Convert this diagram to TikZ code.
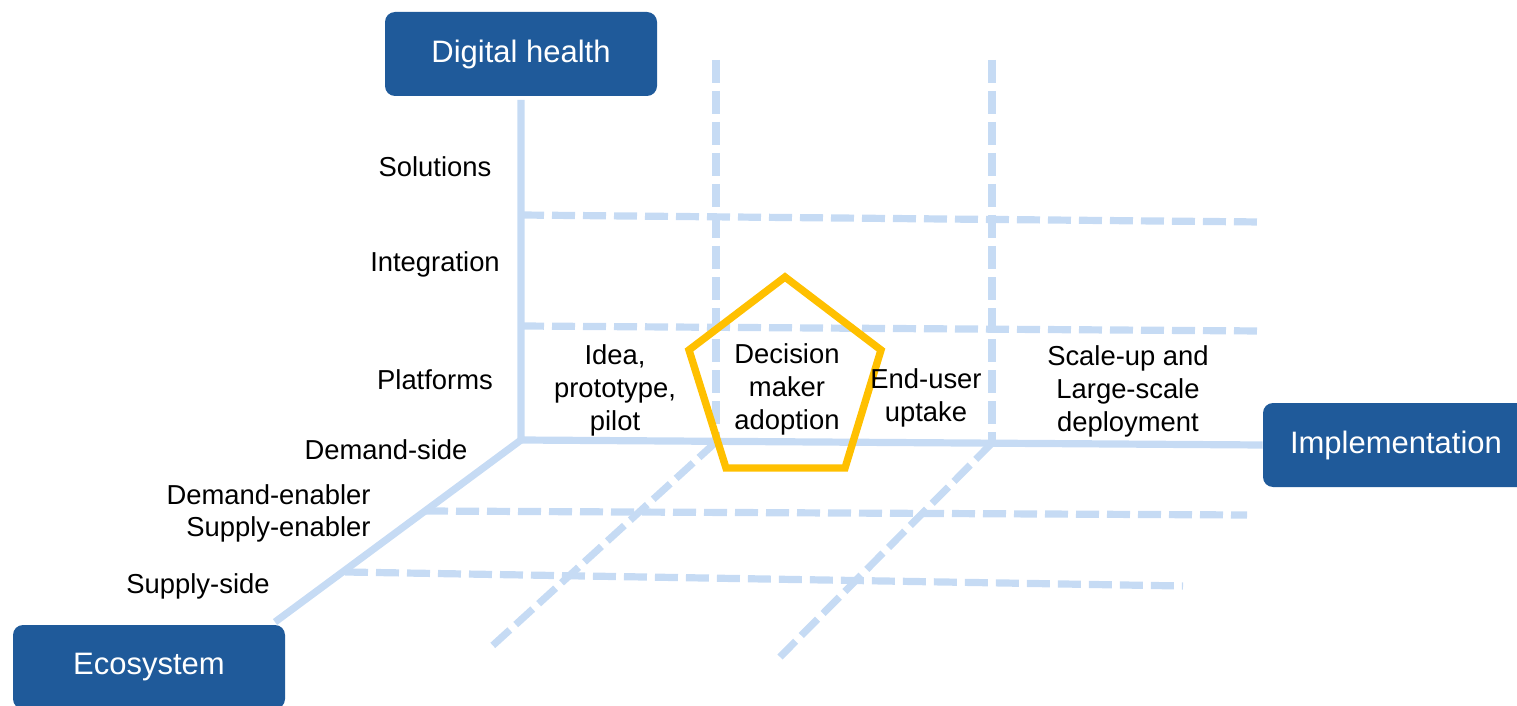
\documentclass[tikz,border=0pt]{standalone}
\usepackage{fontspec}
\setmainfont{Liberation Sans}
\definecolor{boxblue}{HTML}{1F5A9A}
\definecolor{axisblue}{HTML}{C6DBF4}
\definecolor{penyellow}{HTML}{FFC000}
\begin{document}
\begin{tikzpicture}[x=0.5pt,y=-0.5pt,
  axisbox/.style={fill=boxblue,rounded corners=5pt,text=white,minimum width=136pt,minimum height=42pt,inner sep=0pt,font=\fontsize{15.5}{18}\selectfont},
  lbl/.style={text=black,inner sep=0pt,align=center,font=\fontsize{13.7}{16.5}\selectfont},
  axisline/.style={draw=axisblue,line width=3.6pt},
  gridline/.style={draw=axisblue,line width=3.6pt,dash pattern=on 11.5pt off 4pt}]
\useasboundingbox (0,0) rectangle (1517,706);
% boxes
\node[axisbox] (dh) at (521,54) {\raisebox{-1.5pt}{Digital health}};
\node[axisbox,minimum width=135pt] (impl) at (1398,445) {\hspace*{-2pt}\raisebox{-1.5pt}{Implementation}};
\node[axisbox] (eco) at (149,667) {\raisebox{-1.5pt}{Ecosystem}};
% coordinates
\coordinate (O) at (521,440);
\coordinate (E) at (275,622);
\coordinate (vtop) at (521,100);
\coordinate (s1a) at (521,215); \coordinate (s1b) at (1262,222);
\coordinate (s2a) at (521,326); \coordinate (s2b) at (1262,331);
\coordinate (v1a) at (716,60);  \coordinate (v1b) at (716,442);
\coordinate (v2a) at (992,60);  \coordinate (v2b) at (992,443);
\coordinate (d1b) at (490,648);
\coordinate (d2b) at (780,657);
\coordinate (f1a) at (425,511); \coordinate (f1b) at (1247,515);
\coordinate (f2a) at (345,572); \coordinate (f2b) at (1183,586);
% dashed grid
\draw[gridline] (s1a) -- (s1b);
\draw[gridline] (s2a) -- (s2b);
\draw[gridline] (v1a) -- (v1b);
\draw[gridline] (v2a) -- (v2b);
\draw[gridline] (v1b) -- (d1b);
\draw[gridline] (v2b) -- (d2b);
\draw[gridline] (f1a) -- (f1b);
\draw[gridline] (f2a) -- (f2b);
% axes
\draw[axisline] (vtop) -- (O) -- (impl.west);
\draw[axisline] (O) -- (E);
% pentagon
\coordinate (p1) at (785,277);
\coordinate (p2) at (881,350);
\coordinate (p3) at (845,468);
\coordinate (p4) at (726,468);
\coordinate (p5) at (689,350);
\draw[draw=penyellow,line width=3.7pt,line join=miter] (p1) -- (p2) -- (p3) -- (p4) -- (p5) -- cycle;
% labels
\node[lbl] (sol) at (435,167) {Solutions};
\node[lbl] (int) at (435,264) {Integration};
\node[lbl] (pla) at (435,380) {Platforms};
\node[lbl] (ds) at (386,450) {Demand-side};
\node[lbl,anchor=east] (de) at (371,495) {Demand-enabler};
\node[lbl,anchor=east] (se) at (371,529) {Supply-enabler};
\node[lbl] (ss) at (198,586) {Supply-side};
\node[lbl] (idea) at (615,390) {Idea,\\prototype,\\pilot};
\node[lbl] (dec) at (787,389) {Decision\\maker\\adoption};
\node[lbl] (end) at (926,398) {End-user\\uptake};
\node[lbl] (scale) at (1128,391) {Scale-up and\\Large-scale\\deployment};
\end{tikzpicture}
\end{document}
